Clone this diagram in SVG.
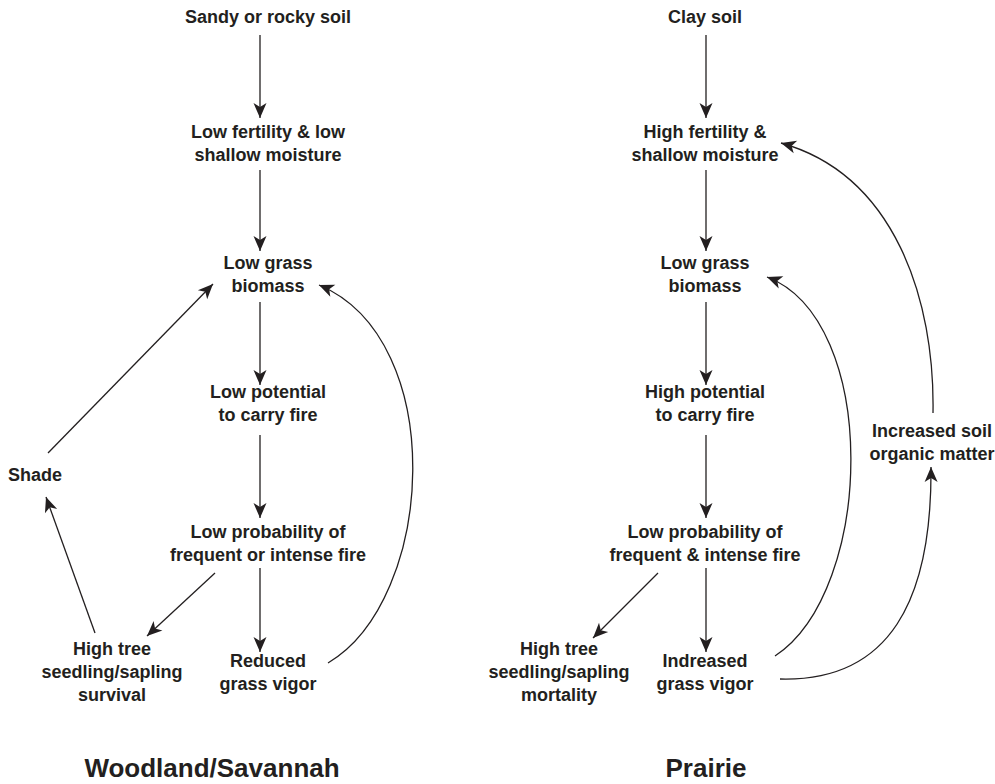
<svg xmlns="http://www.w3.org/2000/svg" width="995" height="784" viewBox="0 0 995 784">
<defs>
<style>
.t{font-family:"Liberation Sans",Arial,Helvetica,sans-serif;font-weight:bold;font-size:18px;fill:#231f20;text-anchor:middle}
.title{font-family:"Liberation Sans",Arial,Helvetica,sans-serif;font-weight:bold;font-size:26px;fill:#231f20;text-anchor:middle}
.c{fill:none;stroke:#231f20;stroke-width:1.3;marker-end:url(#ah)}
</style>
<marker id="ah" markerUnits="userSpaceOnUse" viewBox="-16 -8 17 16" refX="0" refY="0" markerWidth="17" markerHeight="16" orient="auto">
<path d="M0,0 L-15,-6.5 L-11,0 L-15,6.5 Z" fill="#231f20"/>
</marker>
</defs>
<rect width="995" height="784" fill="#fff"/>

<g id="n-sandy"><text class="t" x="268" y="23">Sandy or rocky soil</text></g>
<g id="n-lowfert"><text class="t" x="268" y="138">Low fertility &amp; low</text><text class="t" x="268" y="161">shallow moisture</text></g>
<g id="n-lowgrass-l"><text class="t" x="268" y="269">Low grass</text><text class="t" x="268" y="292">biomass</text></g>
<g id="n-lowpot"><text class="t" x="268" y="398">Low potential</text><text class="t" x="268" y="421">to carry fire</text></g>
<g id="n-lowprob-l"><text class="t" x="268" y="538">Low probability of</text><text class="t" x="268" y="561">frequent or intense fire</text></g>
<g id="n-reduced"><text class="t" x="268" y="667">Reduced</text><text class="t" x="268" y="690">grass vigor</text></g>
<g id="n-survival"><text class="t" x="112" y="655">High tree</text><text class="t" x="112" y="678">seedling/sapling</text><text class="t" x="112" y="701">survival</text></g>
<g id="n-shade"><text class="t" x="35" y="481">Shade</text></g>
<g id="t-woodland"><text class="title" x="212" y="777">Woodland/Savannah</text></g>

<g id="n-clay"><text class="t" x="705" y="23">Clay soil</text></g>
<g id="n-highfert"><text class="t" x="705" y="138">High fertility &amp;</text><text class="t" x="705" y="161">shallow moisture</text></g>
<g id="n-lowgrass-r"><text class="t" x="705" y="269">Low grass</text><text class="t" x="705" y="292">biomass</text></g>
<g id="n-highpot"><text class="t" x="705" y="398">High potential</text><text class="t" x="705" y="421">to carry fire</text></g>
<g id="n-lowprob-r"><text class="t" x="705" y="538">Low probability of</text><text class="t" x="705" y="561">frequent &amp; intense fire</text></g>
<g id="n-increased"><text class="t" x="705" y="667">Indreased</text><text class="t" x="705" y="690">grass vigor</text></g>
<g id="n-mortality"><text class="t" x="559" y="655">High tree</text><text class="t" x="559" y="678">seedling/sapling</text><text class="t" x="559" y="701">mortality</text></g>
<g id="n-som"><text class="t" x="932" y="437">Increased soil</text><text class="t" x="932" y="460">organic matter</text></g>
<g id="t-prairie"><text class="title" x="706" y="777">Prairie</text></g>

<g id="connectors">
<path class="c" d="M260,35 V118"/>
<path class="c" d="M260,170 V251"/>
<path class="c" d="M260,302 V385"/>
<path class="c" d="M260,435 V518"/>
<path class="c" d="M260,568 V652"/>
<path class="c" d="M215,573 L147,636"/>
<path class="c" d="M95,633 L46,497"/>
<path class="c" d="M48,453 L213,284"/>
<path class="c" d="M328,663 C435,600 450,340 319,285"/>

<path class="c" d="M706,35 V118"/>
<path class="c" d="M706,170 V251"/>
<path class="c" d="M706,302 V385"/>
<path class="c" d="M706,435 V518"/>
<path class="c" d="M706,568 V652"/>
<path class="c" d="M658,573 L593,638"/>
<path class="c" d="M775,656 C875,590 880,320 767,277"/>
<path class="c" d="M780,679 C890,682 932,600 931,467"/>
<path class="c" d="M933,413 C935,300 895,175 781,143"/>
</g>
</svg>
